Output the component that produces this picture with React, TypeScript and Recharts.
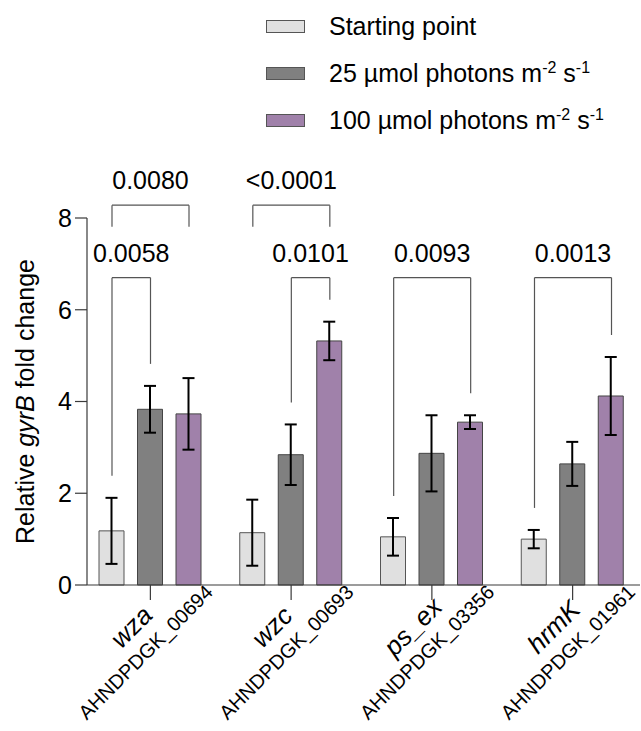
import React from "react";
import { Bar, BarChart, ErrorBar, Legend, ReferenceDot, ReferenceLine, XAxis, YAxis } from "recharts";

const genes = ["wza", "wzc", "ps_ex", "hrmK"];
const loci = ["AHNDPDGK_00694", "AHNDPDGK_00693", "AHNDPDGK_03356", "AHNDPDGK_01961"];
const startPoint = [1.18, 1.14, 1.05, 1.0];
const startErr = [0.72, 0.72, 0.41, 0.2];
const light25 = [3.83, 2.84, 2.87, 2.64];
const light25Err = [0.51, 0.66, 0.83, 0.48];
const light100 = [3.73, 5.32, 3.55, 4.12];
const light100Err = [0.78, 0.42, 0.15, 0.85];
const yTicks = [0, 2, 4, 6, 8];

// p-value brackets (group index, first bar, last bar, text, tier)
const pGroup = [0, 0, 1, 1, 2, 3];
const pFrom = [0, 0, 0, 1, 0, 0];
const pTo = [2, 1, 2, 2, 2, 2];
const pText = ["0.0080", "0.0058", "<0.0001", "0.0101", "0.0093", "0.0013"];
const pTier = ["top", "low", "top", "low", "low", "low"];

const seriesNames = ["Starting point", "25 µmol photons m-2 s-1", "100 µmol photons m-2 s-1"];

const data = genes.map((gene, i) => ({
  gene,
  start: startPoint[i],
  startErr: startErr[i],
  low: light25[i],
  lowErr: light25Err[i],
  high: light100[i],
  highErr: light100Err[i],
}));

const means = [startPoint, light25, light100];
const errs = [startErr, light25Err, light100Err];
const BAR_STEP = 0.2734; // bar pitch as a fraction of the category band
const barX = (g: number, b: number) => g + (b - 1) * BAR_STEP;
const AXIS = "#3a3a3a";
const BRACKET = "#555";
const FONT = "'Liberation Sans', Arial, sans-serif";

function GeneTick({ x, y, payload }: any) {
  const i = genes.indexOf(payload.value);
  return (
    <g transform={`translate(${x},${y - 15}) rotate(-45)`}>
      <text x={-43} y={25} textAnchor="middle" fontSize={26} fontStyle="italic" fill="#000">
        {payload.value}
      </text>
      <text x={-51} y={51} textAnchor="middle" fontSize={20} fill="#000">
        {loci[i]}
      </text>
    </g>
  );
}

function withSup(name: string) {
  return name.split(/(-\d)/).map((part, i) =>
    /^-\d$/.test(part) ? (
      <sup key={i} style={{ fontSize: 16, verticalAlign: "9px", lineHeight: 0 }}>
        {part}
      </sup>
    ) : (
      <span key={i}>{part}</span>
    )
  );
}

function LegendBox({ payload }: any) {
  const items = [...(payload || [])].sort(
    (a: any, b: any) => seriesNames.indexOf(a.value) - seriesNames.indexOf(b.value)
  );
  return (
    <div style={{ display: "flex", flexDirection: "column" }}>
      {items.map((p: any) => (
        <div key={p.value} style={{ height: 47, display: "flex", alignItems: "center", fontSize: 25, color: "#000" }}>
          <span
            style={{
              width: 37,
              height: 11,
              background: p.payload?.fill ?? p.color,
              border: "1px solid #555",
              marginRight: 24,
              display: "inline-block",
            }}
          />
          <span style={{ whiteSpace: "nowrap" }}>{withSup(p.value)}</span>
        </div>
      ))}
    </div>
  );
}

function brackets() {
  const out: React.ReactNode[] = [];
  pText.forEach((text, k) => {
    const g = pGroup[k];
    const top = pTier[k] === "top";
    const yTop = top ? 8.28 : 6.7;
    const yText = top ? 8.82 : 7.23;
    const x1 = barX(g, pFrom[k]);
    const x2 = barX(g, pTo[k]);
    const leg1 = top ? 7.81 : means[pFrom[k]][g] + errs[pFrom[k]][g] + 0.48;
    const leg2 = top ? 7.81 : means[pTo[k]][g] + errs[pTo[k]][g] + 0.48;
    const common = { xAxisId: "n", stroke: BRACKET, strokeWidth: 1.2, ifOverflow: "visible" as const };
    out.push(
      <ReferenceLine key={`a${k}`} {...common} segment={[{ x: x1, y: leg1 }, { x: x1, y: yTop }]} />,
      <ReferenceLine key={`b${k}`} {...common} segment={[{ x: x1, y: yTop }, { x: x2, y: yTop }]} />,
      <ReferenceLine key={`c${k}`} {...common} segment={[{ x: x2, y: yTop }, { x: x2, y: leg2 }]} />,
      <ReferenceDot
        key={`t${k}`}
        xAxisId="n"
        x={(x1 + x2) / 2}
        y={yText}
        r={0}
        fill="none"
        stroke="none"
        ifOverflow="visible"
        label={{ value: text, position: "center", fontSize: 25, fill: "#000" }}
      />
    );
  });
  return out;
}

export default function App() {
  return (
    <div style={{ position: "absolute", left: 0, top: 0, fontFamily: FONT, background: "#fff" }}>
      <BarChart width={641} height={731} data={data} margin={{ top: 218, right: 1, bottom: 0, left: 0 }} barSize={25} barGap={13.5}>
        <XAxis
          dataKey="gene"
          height={146}
          padding={{ left: -7, right: -3 }}
          tickSize={15}
          tickMargin={0}
          tickLine={{ stroke: AXIS, strokeWidth: 1.2 }}
          axisLine={{ stroke: AXIS, strokeWidth: 1.2 }}
          tick={<GeneTick />}
          interval={0}
        />
        {/* numeric twin of the category axis: 0..3 = group centres */}
        <XAxis xAxisId="n" type="number" domain={[0, 3]} allowDataOverflow hide padding={{ left: 63.5, right: 67 }} />
        <YAxis
          width={87}
          domain={[0, 8]}
          ticks={yTicks}
          tickSize={12}
          tickMargin={3}
          tick={{ fontSize: 25, fill: "#000" }}
          tickLine={{ stroke: AXIS, strokeWidth: 1.2 }}
          axisLine={{ stroke: AXIS, strokeWidth: 1.2 }}
          label={{
            content: ({ viewBox }: any) => (
              <text
                transform={`translate(34, ${viewBox.y + viewBox.height / 2}) rotate(-90)`}
                textAnchor="middle"
                fontSize={25}
                fill="#000"
              >
                Relative <tspan fontStyle="italic">gyrB</tspan> fold change
              </text>
            ),
          }}
        />
        <Legend
          layout="vertical"
          align="center"
          verticalAlign="middle"
          wrapperStyle={{ top: 3, left: 266, width: 370 }}
          content={<LegendBox />}
        />
        <Bar dataKey="start" name={seriesNames[0]} fill="#e0e0e0" stroke="#555" strokeWidth={1} isAnimationActive={false}>
          <ErrorBar dataKey="startErr" width={6} stroke="#000" strokeWidth={2} />
        </Bar>
        <Bar dataKey="low" name={seriesNames[1]} fill="#808080" stroke="#444" strokeWidth={1} isAnimationActive={false}>
          <ErrorBar dataKey="lowErr" width={6} stroke="#000" strokeWidth={2} />
        </Bar>
        <Bar dataKey="high" name={seriesNames[2]} fill="#a081aa" stroke="#444" strokeWidth={1} isAnimationActive={false}>
          <ErrorBar dataKey="highErr" width={6} stroke="#000" strokeWidth={2} />
        </Bar>
        {brackets()}
      </BarChart>
    </div>
  );
}
